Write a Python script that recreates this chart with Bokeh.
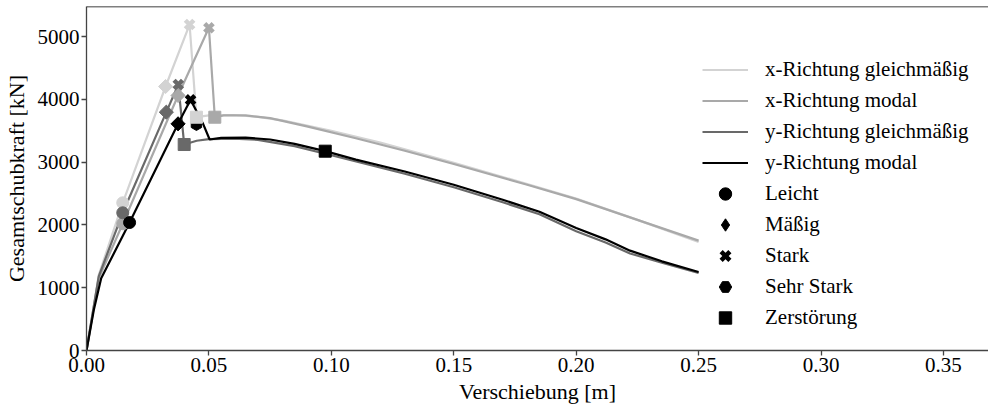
import math
from bokeh.plotting import figure
from bokeh.models import (Range1d, Span, Legend, LegendItem, NumeralTickFormatter,
                          FixedTicker, ColumnDataSource)
from bokeh.embed import file_html
from bokeh.resources import INLINE

# Pushover curves (displacement [m], total base shear [kN])
xg_disp = [0, 0.005, 0.0148, 0.0323, 0.0421, 0.0449, 0.050, 0.060, 0.070, 0.080,
           0.100, 0.120, 0.150, 0.180, 0.200, 0.225, 0.250]
xg_force = [0, 1200, 2352, 4204, 5191, 3715, 3745, 3750, 3720, 3665,
            3500, 3310, 2990, 2650, 2420, 2080, 1730]

xm_disp = [0, 0.005, 0.0148, 0.0374, 0.0500, 0.0524, 0.056, 0.065, 0.075, 0.090,
           0.110, 0.130, 0.150, 0.180, 0.200, 0.225, 0.250]
xm_force = [0, 1150, 2018, 4061, 5139, 3715, 3745, 3745, 3700, 3570,
            3380, 3180, 2970, 2640, 2410, 2080, 1750]

yg_disp = [0, 0.005, 0.0148, 0.0326, 0.0375, 0.0399, 0.045, 0.050, 0.060, 0.070,
           0.085, 0.100, 0.130, 0.150, 0.170, 0.185, 0.200, 0.212, 0.222, 0.235, 0.250]
yg_force = [0, 1180, 2193, 3795, 4236, 3280, 3340, 3365, 3375, 3355,
            3255, 3110, 2815, 2600, 2360, 2170, 1900, 1720, 1545, 1400, 1235]

ym_disp = [0, 0.003, 0.006, 0.0176, 0.0374, 0.0425, 0.0475, 0.0503, 0.055, 0.065,
           0.075, 0.085, 0.0975, 0.110, 0.130, 0.150, 0.170, 0.185, 0.200, 0.212,
           0.222, 0.235, 0.250]
ym_force = [0, 650, 1150, 2038, 3610, 3992, 3620, 3360, 3385, 3390,
            3360, 3290, 3174, 3040, 2850, 2640, 2400, 2210, 1950, 1770,
            1590, 1420, 1250]

series_names = ["x-Richtung gleichmäßig", "x-Richtung modal",
                "y-Richtung gleichmäßig", "y-Richtung modal"]
series_colors = ["#d3d3d3", "#a9a9a9", "#696969", "#000000"]

# Damage states per curve, in the order of series_names
leicht_disp = [0.0148, 0.0148, 0.0148, 0.0176]
leicht_force = [2352, 2018, 2193, 2038]
maessig_disp = [0.0323, 0.0374, 0.0326, 0.0374]
maessig_force = [4204, 4061, 3795, 3610]
stark_disp = [0.0421, 0.0500, 0.0375, 0.0425]
stark_force = [5191, 5139, 4236, 3992]
sehr_stark_disp = [0.0449]
sehr_stark_force = [3599]
sehr_stark_colors = ["#000000"]
zerstoerung_disp = [0.0449, 0.0524, 0.0399, 0.0975]
zerstoerung_force = [3715, 3715, 3280, 3174]

x_ticks = [0, 0.05, 0.10, 0.15, 0.20, 0.25, 0.30, 0.35]
y_ticks = [0, 1000, 2000, 3000, 4000, 5000]

FONT = "'Liberation Serif', 'Times New Roman', Times, serif"
AXIS_COLOR = "#444444"
Y_TOP = 5478

p = figure(width=988, height=406, output_backend="svg", toolbar_location=None,
           x_range=Range1d(0, 0.3684), y_range=Range1d(0, Y_TOP),
           min_border_left=84, min_border_right=0, min_border_top=6,
           min_border_bottom=56)
p.outline_line_color = None
p.background_fill_color = "white"
p.border_fill_color = "white"
p.xgrid.visible = False
p.ygrid.visible = False

for ax in (p.xaxis[0], p.yaxis[0]):
    ax.axis_line_color = AXIS_COLOR
    ax.axis_line_width = 1.3
    ax.major_tick_line_color = AXIS_COLOR
    ax.major_tick_line_width = 1.3
    ax.major_tick_in = 0
    ax.major_tick_out = 5
    ax.minor_tick_line_color = None
    ax.major_label_text_font = FONT
    ax.major_label_text_font_size = "21px"
    ax.major_label_text_color = "black"
    ax.axis_label_text_font = FONT
    ax.axis_label_text_font_size = "22px"
    ax.axis_label_text_font_style = "normal"
    ax.axis_label_text_color = "black"

p.xaxis.ticker = FixedTicker(ticks=x_ticks)
p.yaxis.ticker = FixedTicker(ticks=y_ticks)
p.xaxis.formatter = NumeralTickFormatter(format="0.00")
p.yaxis.formatter = NumeralTickFormatter(format="0")
p.xaxis.axis_label = "Verschiebung [m]"
p.yaxis.axis_label = "Gesamtschubkraft [kN]"
p.xaxis.major_label_standoff = 2
p.yaxis.major_label_standoff = 2
p.xaxis.axis_label_standoff = 4
p.yaxis.axis_label_standoff = 6

# top spine
p.add_layout(Span(location=Y_TOP, dimension="width", line_color="black", line_width=1.3))

curves = [(xg_disp, xg_force), (xm_disp, xm_force), (yg_disp, yg_force), (ym_disp, ym_force)]
line_renderers = []
for (d, f), col in zip(curves, series_colors):
    line_renderers.append(p.line(d, f, line_color=col, line_width=2.2))


def marker_layer(disp, force, colors, marker, size, angle=0.0, line_width=1.0):
    src = ColumnDataSource(dict(x=disp, y=force, c=colors))
    return p.scatter("x", "y", source=src, marker=marker, size=size, angle=angle,
                     fill_color="c", line_color="c", line_width=line_width)


r_leicht = marker_layer(leicht_disp, leicht_force, series_colors, "circle", 12)
# diamond legend key for the y modal point, covered in the plot by the rotated squares
r_maessig_key = marker_layer(maessig_disp[3:], maessig_force[3:], series_colors[3:],
                             "diamond", 12)
r_maessig = marker_layer(maessig_disp, maessig_force, series_colors, "square", 10,
                         angle=math.pi / 4)
r_stark = marker_layer(stark_disp, stark_force, series_colors, "x", 12, line_width=4.5)
r_sehr = marker_layer(sehr_stark_disp, sehr_stark_force, sehr_stark_colors, "hex", 12,
                      angle=math.pi / 6)
r_zerst = marker_layer(zerstoerung_disp, zerstoerung_force, series_colors, "square", 12)

items = [LegendItem(label=n, renderers=[r]) for n, r in zip(series_names, line_renderers)]
items += [
    LegendItem(label="Leicht", renderers=[r_leicht], index=3),
    LegendItem(label="Mäßig", renderers=[r_maessig_key], index=0),
    LegendItem(label="Stark", renderers=[r_stark], index=3),
    LegendItem(label="Sehr Stark", renderers=[r_sehr], index=0),
    LegendItem(label="Zerstörung", renderers=[r_zerst], index=3),
]
legend = Legend(items=items, location=(616, 17), padding=0, margin=0,
                border_line_color=None, background_fill_alpha=0,
                glyph_width=46, glyph_height=31, label_height=31, spacing=0,
                label_standoff=17, label_text_font=FONT, label_text_font_size="21px",
                label_text_color="black")
p.add_layout(legend)

open("out.html", "w").write(file_html(p, INLINE))
